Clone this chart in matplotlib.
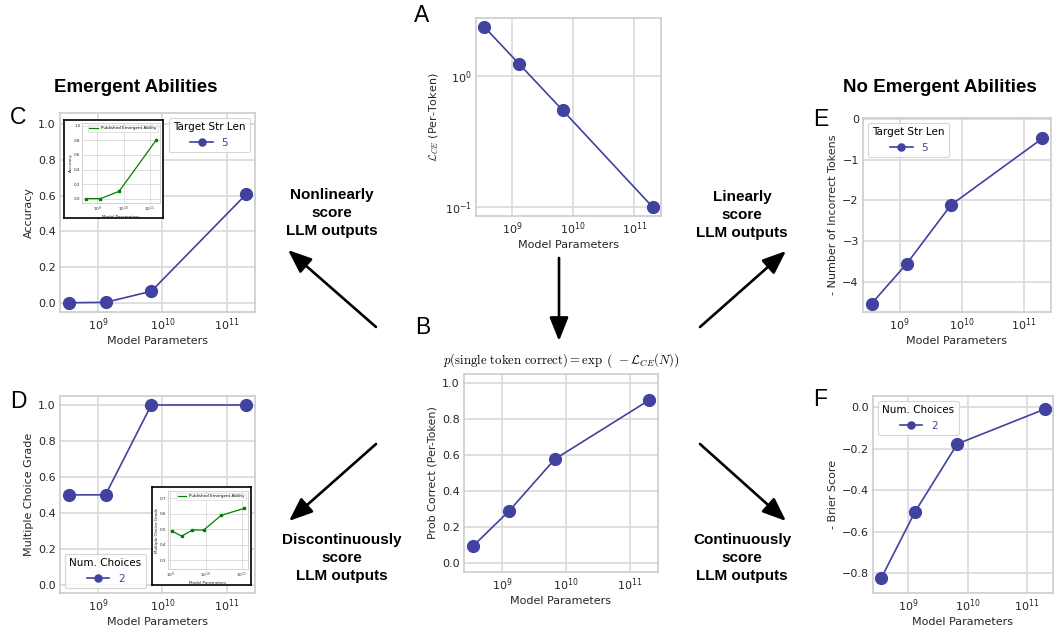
import numpy as np
import matplotlib
matplotlib.use('Agg')
import matplotlib.pyplot as plt
import matplotlib.patches as mpatches
from matplotlib.ticker import NullFormatter, LogLocator

# model sizes (x axis, shared by every main panel)
params = [3.5e8, 1.3e9, 6.7e9, 2.0e11]

# panel values
ce_loss = [2.38, 1.24, 0.55, 0.10]              # A
prob_correct = [0.093, 0.29, 0.577, 0.905]      # B
accuracy = [0.0, 0.002, 0.064, 0.607]           # C
mc_grade = [0.5, 0.5, 1.0, 1.0]                 # D
neg_incorrect = [-4.535, -3.55, -2.11, -0.475]  # E
neg_brier = [-0.825, -0.505, -0.178, -0.01]     # F

# insets (published emergent abilities)
inset_c_x = [3.5e8, 1.3e9, 6.7e9, 1.8e11]
inset_c_y = [0.0, 0.0, 0.1, 0.81]
inset_d_x = [1.1e9, 2.1e9, 4.2e9, 8.7e9, 2.7e10, 1.2e11]
inset_d_y = [0.49, 0.455, 0.495, 0.495, 0.59, 0.635]

W, H = 1057, 630
LINE = '#4141a0'
GRID = '#d9d9d9'
TXT = '#262626'
ARIAL = 'Liberation Sans'

plt.rcParams['mathtext.fontset'] = 'cm'
plt.rcParams['axes.edgecolor'] = '#cccccc'
plt.rcParams['xtick.color'] = TXT
plt.rcParams['ytick.color'] = TXT
plt.rcParams['axes.labelcolor'] = TXT

fig = plt.figure(figsize=(W / 100, H / 100), dpi=100)


def box(x0, y0, x1, y1):
    # pixel box -> figure fraction rect
    return [x0 / W, 1 - y1 / H, (x1 - x0) / W, (y1 - y0) / H]


def fp(x, y):
    return (x / W, 1 - y / H)


def style(ax, fs=8, lw=1.2):
    ax.set_xscale('log')
    ax.grid(True, which='major', color=GRID, lw=lw)
    ax.set_axisbelow(True)
    for s in ax.spines.values():
        s.set_color('#cccccc')
        s.set_linewidth(lw)
    ax.tick_params(which='both', length=0, labelsize=fs, pad=3)
    ax.xaxis.set_major_locator(LogLocator(base=10, numticks=10))
    ax.xaxis.set_minor_formatter(NullFormatter())


def panel(rect, y, ylabel, ylim=None, leg=None):
    ax = fig.add_axes(rect)
    style(ax)
    ax.plot(params, y, color=LINE, lw=1.2, marker='o', ms=8.5,
            label=leg[1] if leg else None)
    if ylim:
        ax.set_ylim(*ylim)
    ax.set_xlabel('Model Parameters', fontsize=8, labelpad=2)
    ax.set_ylabel(ylabel, fontsize=8, labelpad=3)
    if leg:
        lg = ax.legend(title=leg[0], loc=leg[2], fontsize=7.5,
                       title_fontsize=7.5, markerscale=0.6,
                       labelcolor='linecolor', edgecolor='#cccccc',
                       handlelength=2.2, borderpad=0.4)
        lg.get_frame().set_linewidth(0.8)
    return ax


def inset(frame, inner, x, y, ylabel, ylim, yticks):
    fr = fig.add_axes(box(*frame))
    fr.set_xticks([])
    fr.set_yticks([])
    fr.set_facecolor('white')
    for s in fr.spines.values():
        s.set_color('black')
        s.set_linewidth(1.2)
    ax = fig.add_axes(box(*inner))
    style(ax, fs=3, lw=0.6)
    ax.tick_params(pad=1)
    ax.plot(x, y, color='green', lw=0.9, label='Published Emergent Ability')
    ax.plot(x, y, color='green', lw=0, marker='s', ms=1.6)
    ax.set_ylim(*ylim)
    ax.set_yticks(yticks)
    ax.set_xlabel('Model Parameters', fontsize=3, labelpad=1)
    ax.set_ylabel(ylabel, fontsize=3, labelpad=1)
    lg = ax.legend(loc='upper right', fontsize=3, handlelength=2,
                   edgecolor='#cccccc', borderpad=0.3)
    lg.get_frame().set_linewidth(0.5)


# A
axA = panel(box(476, 18, 661, 216), ce_loss,
            r'$\mathcal{L}_{CE}$ (Per-Token)')
axA.set_yscale('log')
axA.yaxis.set_minor_formatter(NullFormatter())
axA.grid(False, which='minor')

# B
axB = panel(box(464, 374, 658, 572), prob_correct, 'Prob Correct (Per-Token)',
            ylim=(-0.05, 1.05))
axB.set_title(r'$p(\mathrm{single\ token\ correct}) = '
              r'\exp\ \left(\ -\mathcal{L}_{CE}(N)\right)$',
              fontsize=9.2, pad=7, color='black')

# C
axC = panel(box(60, 113, 255, 312), accuracy, 'Accuracy',
            ylim=(-0.052, 1.062), leg=('Target Str Len', '5', 'upper right'))
inset((64, 120, 163, 218), (82, 123, 160, 203), inset_c_x, inset_c_y,
      'Accuracy', (-0.06, 1.04), [0, 0.2, 0.4, 0.6, 0.8, 1.0])

# D
axD = panel(box(60, 396, 255, 593), mc_grade, 'Multiple Choice Grade',
            ylim=(-0.046, 1.05), leg=('Num. Choices', '2', 'lower left'))
inset((152, 487, 251, 585), (168, 491, 248, 569), inset_d_x, inset_d_y,
      'Multiple Choice Grade', (0.243, 0.747), [0.3, 0.4, 0.5, 0.6, 0.7])

# E
panel(box(863, 118, 1051, 312), neg_incorrect,
      '- Number of Incorrect Tokens', ylim=(-4.74, 0.025),
      leg=('Target Str Len', '5', 'upper left'))

# F
panel(box(873, 396, 1053, 593), neg_brier, '- Brier Score',
      ylim=(-0.896, 0.053), leg=('Num. Choices', '2', 'upper left'))

# panel letters
letters = {'A': (422, 15), 'B': (423, 328), 'C': (18, 118),
           'D': (18, 401), 'E': (821, 120), 'F': (820, 400)}
for k, (x, y) in letters.items():
    fig.text(*fp(x, y), k, fontsize=16.5, family=ARIAL,
             ha='center', va='center')

# headings
fig.text(*fp(218, 88), 'Emergent Abilities', fontsize=13.5,
         fontweight='bold', family=ARIAL, ha='right', va='center')
fig.text(*fp(940, 88), 'No Emergent Abilities', fontsize=13.5,
         fontweight='bold', family=ARIAL, ha='center', va='center')

# arrow captions
captions = [('Nonlinearly\nscore\nLLM outputs', 332, 213),
            ('Discontinuously\nscore\nLLM outputs', 342, 558),
            ('Linearly\nscore\nLLM outputs', 742, 215),
            ('Continuously\nscore\nLLM outputs', 742, 558)]
for t, x, y in captions:
    fig.text(*fp(x, y), t, fontsize=11, fontweight='bold', family=ARIAL,
             ha='center', va='center', linespacing=1.35)

# arrows
arrows = [((559, 258), (559, 341)),
          ((376, 327), (288, 250)),
          ((376, 444), (289, 521)),
          ((700, 327), (786, 251)),
          ((700, 444), (786, 521))]
for a, b in arrows:
    fig.add_artist(mpatches.FancyArrowPatch(
        fp(*a), fp(*b), transform=fig.transFigure,
        arrowstyle='-|>,head_length=0.8,head_width=0.32',
        mutation_scale=18, color='black', lw=1.9, shrinkA=0, shrinkB=0))

fig.savefig('out.png', dpi=100)
